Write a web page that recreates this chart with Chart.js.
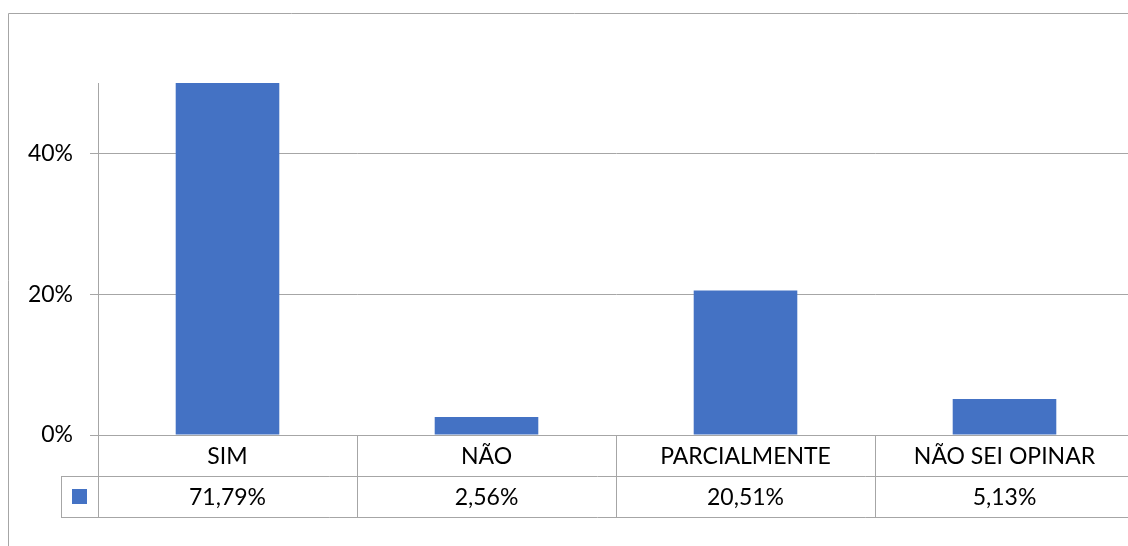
<!DOCTYPE html>
<html>
<head>
<meta charset="utf-8">
<script src="https://cdn.jsdelivr.net/npm/chart.js@4/dist/chart.umd.min.js"></script>
<style>
  html, body { margin: 0; padding: 0; background: #fff; overflow: hidden; }
  #wrap { width: 1128px; height: 546px; overflow: hidden; position: relative; }
  canvas { display: block; }
</style>
</head>
<body>
<div id="wrap"><canvas id="c" width="1140" height="546"></canvas></div>
<script>
// Survey answers and their shares (percent)
const categories = ['SIM', 'NÃO', 'PARCIALMENTE', 'NÃO SEI OPINAR'];
const values = [71.79, 2.56, 20.51, 5.13];
// Value axis: labelled ticks and the axis ceiling
const yTicks = [0, 20, 40];
const yMax = 50;

const FONT = 'Lato, "Open Sans", sans-serif';
const FONT_SIZE = 23;
const LINE = '#a6a6a6';
const BAR = '#4472C4';

const fmt = v => v.toFixed(2).replace('.', ',') + '%';

// Frame around the chart plus the data table under the plot
const tablePlugin = {
  id: 'dataTable',
  beforeDraw(chart) {
    const ctx = chart.ctx;
    ctx.save();
    ctx.strokeStyle = LINE;
    ctx.lineWidth = 1;
    ctx.beginPath();
    ctx.moveTo(8.5, chart.height + 5);
    ctx.lineTo(8.5, 13.5);
    ctx.lineTo(chart.width + 5, 13.5);
    ctx.stroke();
    ctx.restore();
  },
  afterDraw(chart) {
    const ctx = chart.ctx;
    const area = chart.chartArea;
    const xs = chart.scales.x;
    const n = categories.length;
    const cw = (area.right - area.left) / n;
    const rowH = 41;
    const top = area.bottom;
    const mid = top + rowH;
    const bot = top + 2 * rowH;
    const keyW = 37;
    const crisp = v => Math.round(v) + 0.5;

    ctx.save();
    ctx.strokeStyle = LINE;
    ctx.lineWidth = 1;
    ctx.beginPath();
    // vertical separators
    for (let i = 0; i <= n; i++) {
      const x = crisp(area.left + i * cw);
      ctx.moveTo(x, top);
      ctx.lineTo(x, bot);
    }
    ctx.moveTo(crisp(area.left - keyW), mid);
    ctx.lineTo(crisp(area.left - keyW), bot);
    // horizontal rules
    ctx.moveTo(area.left - keyW, crisp(mid));
    ctx.lineTo(area.right, crisp(mid));
    ctx.moveTo(area.left - keyW, crisp(bot));
    ctx.lineTo(area.right, crisp(bot));
    ctx.stroke();

    // legend key
    const kx = area.left - keyW / 2;
    const ky = (mid + bot) / 2;
    ctx.fillStyle = BAR;
    ctx.fillRect(Math.round(kx - 7.5), Math.round(ky - 7.5), 15, 15);

    // texts
    ctx.fillStyle = '#000';
    ctx.font = FONT_SIZE + 'px ' + FONT;
    ctx.textAlign = 'center';
    ctx.textBaseline = 'middle';
    categories.forEach((c, i) => {
      const x = xs.getPixelForValue(i);
      ctx.fillText(c, x, (top + mid) / 2 + 1);
      ctx.fillText(fmt(values[i]), x, (mid + bot) / 2 + 1);
    });
    ctx.restore();
  }
};

new Chart(document.getElementById('c'), {
  type: 'bar',
  data: {
    labels: categories,
    datasets: [{
      data: values,
      backgroundColor: BAR,
      borderWidth: 0,
      categoryPercentage: 1,
      barPercentage: 0.4
    }]
  },
  options: {
    responsive: false,
    animation: false,
    events: [],
    layout: { padding: { top: 83, bottom: 111, left: 0, right: 6 } },
    plugins: { legend: { display: false }, tooltip: { enabled: false } },
    scales: {
      x: { display: false },
      y: {
        min: 0,
        max: yMax,
        afterBuildTicks(scale) { scale.ticks = yTicks.map(v => ({ value: v })); },
        afterFit(scale) { scale.width = 98; },
        ticks: {
          padding: 17,
          color: '#000',
          font: { family: FONT, size: FONT_SIZE },
          callback: v => v + '%'
        },
        grid: { color: LINE, lineWidth: 1, tickLength: 8 },
        border: { display: true, color: LINE, width: 1 }
      }
    }
  },
  plugins: [tablePlugin]
});
</script>
</body>
</html>
